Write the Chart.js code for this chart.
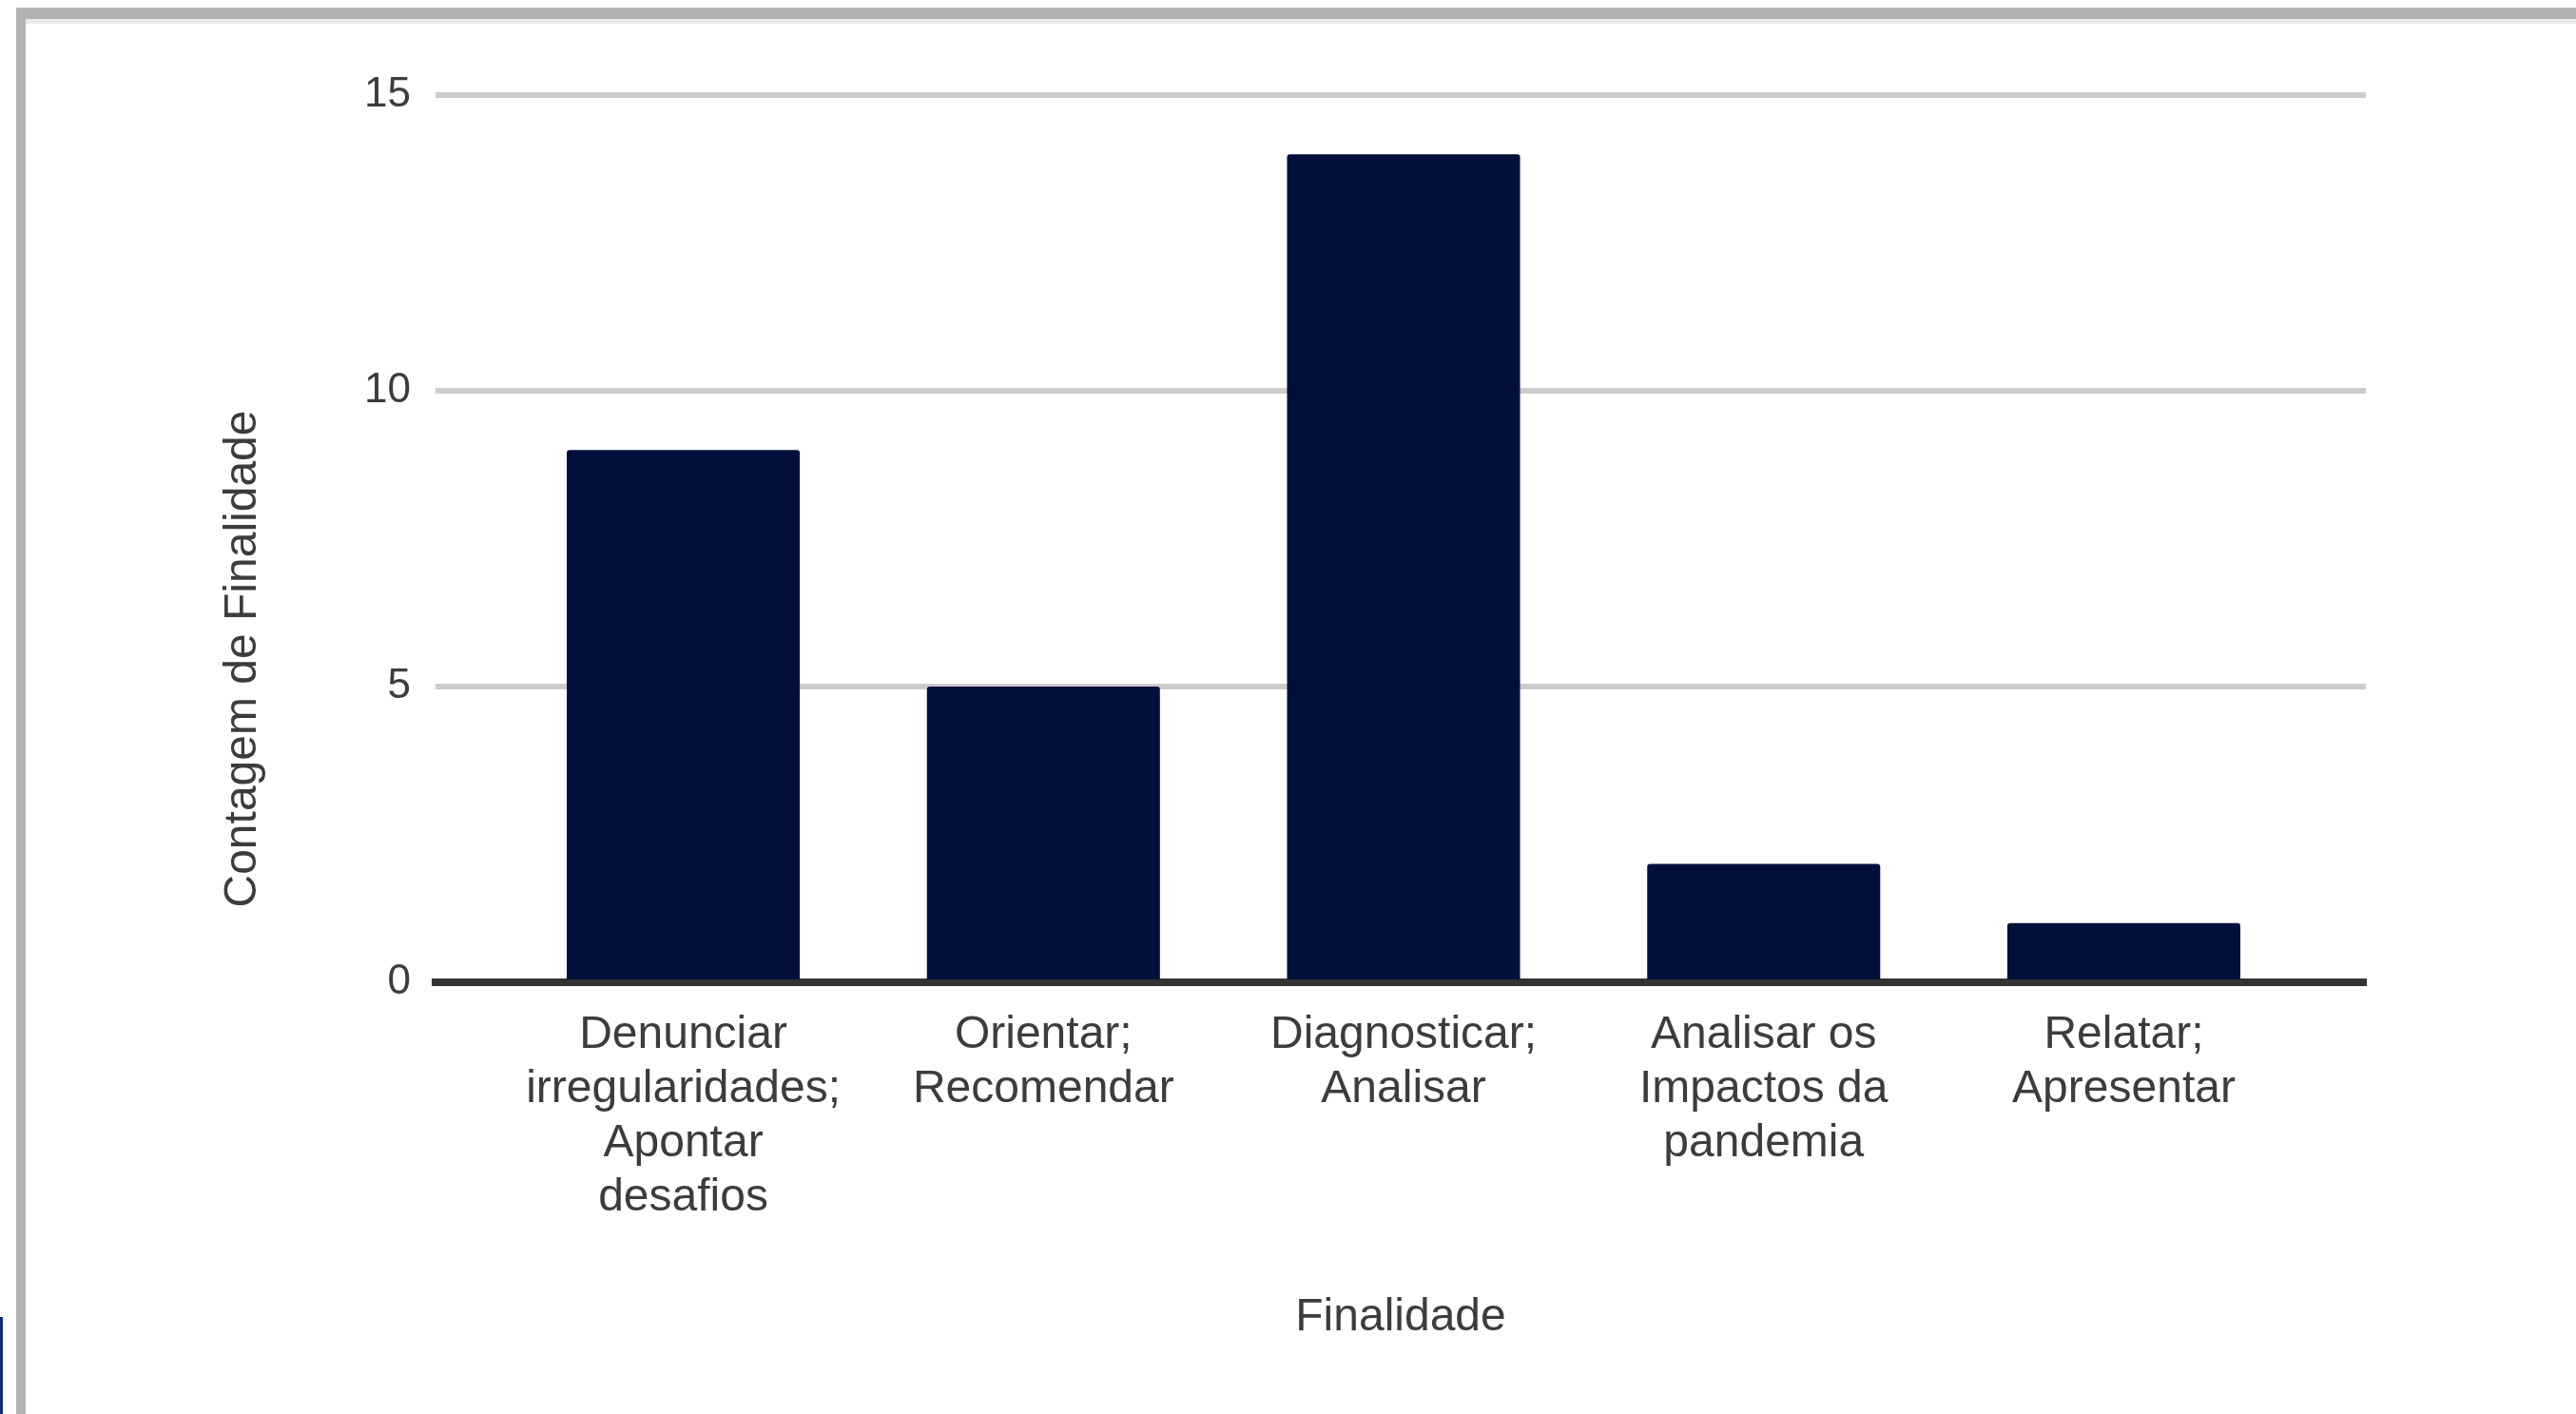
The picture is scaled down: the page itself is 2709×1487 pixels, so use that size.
<!DOCTYPE html>
<html>
<head>
<meta charset="utf-8">
<script src="https://cdn.jsdelivr.net/npm/chart.js@4"></script>
<style>
  html, body { margin: 0; padding: 0; background: #fff; overflow: hidden; }
  body { width: 2709px; height: 1487px; position: relative; }
  .frame-top { position: absolute; left: 17px; top: 8px; width: 2692px; height: 12px; background: #b3b3b3; }
  .frame-top-light { position: absolute; left: 27px; top: 20px; width: 2682px; height: 5px; background: #ebebeb; }
  .frame-left { position: absolute; left: 17px; top: 8px; width: 10px; height: 1479px; background: #b3b3b3; }
  .edge-blue { position: absolute; left: 0; top: 1385px; width: 3px; height: 102px; background: #0a2a7a; }
  #wrap { position: absolute; left: 0; top: 0; width: 2709px; height: 1487px; }
</style>
</head>
<body>
<div class="frame-top"></div>
<div class="frame-top-light"></div>
<div class="frame-left"></div>
<div class="edge-blue"></div>
<div id="wrap"><canvas id="chart"></canvas></div>
<script>
// Dados do gráfico
const categorias = [
  ['Denunciar', 'irregularidades;', 'Apontar', 'desafios'],
  ['Orientar;', 'Recomendar'],
  ['Diagnosticar;', 'Analisar'],
  ['Analisar os', 'Impactos da', 'pandemia'],
  ['Relatar;', 'Apresentar']
];
const contagem = [9, 5, 14, 2, 1];
const yTicks = [0, 5, 10, 15];
const tituloY = 'Contagem de Finalidade';
const tituloX = 'Finalidade';

const fonte = 'Liberation Sans, Arial, sans-serif';
const corTexto = '#3c3c3c';

// título do eixo Y, centrado um pouco abaixo do meio da área do gráfico
const tituloYPlugin = {
  id: 'tituloY',
  afterDraw(chart) {
    const c = chart.ctx;
    const area = chart.chartArea;
    c.save();
    c.translate(256, area.bottom - 340);
    c.rotate(-Math.PI / 2);
    c.fillStyle = corTexto;
    c.font = '48px ' + fonte;
    c.textAlign = 'center';
    c.textBaseline = 'middle';
    c.fillText(tituloY, 0, 0);
    c.restore();
  }
};

const ctx = document.getElementById('chart').getContext('2d');
const chart = new Chart(ctx, {
  type: 'bar',
  data: {
    datasets: [{
      label: tituloY,
      data: contagem.map((v, i) => ({ x: i, y: v })),
      backgroundColor: '#01103a',
      borderWidth: 0,
      borderRadius: 3,
      borderSkipped: 'bottom',
      categoryPercentage: 1,
      barPercentage: 0.647
    }]
  },
  options: {
    responsive: true,
    maintainAspectRatio: false,
    animation: false,
    layout: {
      padding: { left: 200, top: 100, right: 221, bottom: 72 }
    },
    plugins: {
      legend: { display: false },
      tooltip: { enabled: false }
    },
    scales: {
      x: {
        type: 'linear',
        offset: false,
        min: -0.688,
        max: 4.672,
        grid: { display: false, drawTicks: false },
        border: { display: true, color: '#333333', width: 8 },
        ticks: {
          stepSize: 1,
          includeBounds: false,
          autoSkip: false,
          maxRotation: 0,
          padding: 27,
          color: corTexto,
          font: { family: fonte, size: 48, lineHeight: 1.19 },
          callback: function(value) {
            return Number.isInteger(value) && categorias[value] ? categorias[value] : '';
          }
        },
        title: {
          display: true,
          text: tituloX,
          color: corTexto,
          padding: { top: 0, bottom: 0 },
          font: { family: fonte, size: 48, lineHeight: 1.2 }
        },
        afterFit: function(scale) { scale.height = 382; }
      },
      y: {
        min: 0,
        max: 15,
        afterBuildTicks: function(scale) {
          scale.ticks = yTicks.map(v => ({ value: v }));
        },
        grid: {
          drawTicks: false,
          color: c => c.tick && c.tick.value === 0 ? 'rgba(0,0,0,0)' : '#cccccc',
          lineWidth: 6
        },
        border: { display: false },
        ticks: {
          padding: 26,
          color: corTexto,
          font: { family: fonte, size: 44 }
        },
        afterFit: function(scale) { scale.width = 258; }
      }
    }
  },
  plugins: [tituloYPlugin]
});
</script>
</body>
</html>
